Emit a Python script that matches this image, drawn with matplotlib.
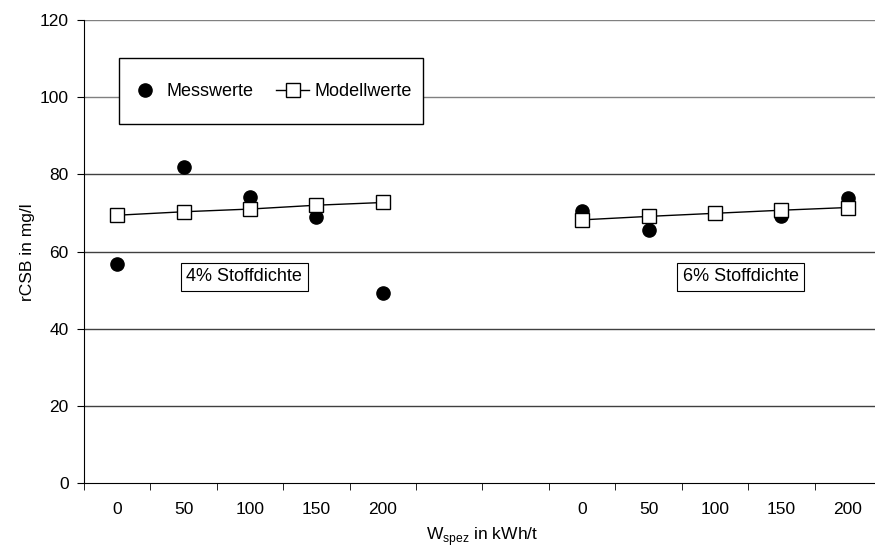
import matplotlib.pyplot as plt
from matplotlib.patches import Rectangle

# Kategorien der x-Achse (zwei Gruppen mit Lücke)
kategorien = ['0', '50', '100', '150', '200', '', '', '0', '50', '100', '150', '200']

# 4% Stoffdichte
mess_4 = [56.8, 81.8, 74.0, 69.0, 49.2]
modell_4 = [69.4, 70.3, 71.0, 72.0, 72.7]
# 6% Stoffdichte
mess_6 = [70.5, 65.6, 70.0, 69.1, 73.9]
modell_6 = [68.2, 69.1, 69.9, 70.7, 71.4]

pos_4 = [0, 1, 2, 3, 4]
pos_6 = [7, 8, 9, 10, 11]

plt.rcParams['font.family'] = ['Liberation Sans', 'DejaVu Sans']

W, H = 875, 549
fig = plt.figure(figsize=(8.75, 5.49), dpi=100)
ax = fig.add_axes([84 / W, 1 - 483 / H, 797 / W, 463 / H])

ax.set_xlim(-0.5, 11.5)
ax.set_ylim(0, 120)

# Gitterlinien
for y in range(20, 121, 20):
    ax.axhline(y, color='#404040' if y < 100 else '#808080', lw=1, zorder=1)

ms = 9.5
ax.plot(pos_4, mess_4, 'o', color='black', ms=ms, zorder=3, label='Messwerte')
ax.plot(pos_6, mess_6, 'o', color='black', ms=ms, zorder=3)
ax.plot(pos_4, modell_4, '-s', color='black', lw=1, ms=ms, mfc='white', mec='black',
        mew=1, zorder=4, label='Modellwerte')
ax.plot(pos_6, modell_6, '-s', color='black', lw=1, ms=ms, mfc='white', mec='black',
        mew=1, zorder=4)

# Achsen
for s in ['top', 'right']:
    ax.spines[s].set_visible(False)
ax.spines['left'].set_color('black')
ax.spines['bottom'].set_color('black')
ax.set_yticks(range(0, 121, 20))
ax.tick_params(axis='y', direction='out', length=5, labelsize=12.5, pad=6)
ax.set_xticks(range(12))
ax.set_xticklabels(kategorien)
ax.tick_params(axis='x', which='major', length=0, labelsize=12.5, pad=14)
ax.set_xticks([i - 0.5 for i in range(13)], minor=True)
ax.tick_params(axis='x', which='minor', direction='out', length=5)

ax.set_ylabel('rCSB in mg/l', fontsize=12.5)
ax.yaxis.set_label_coords((35 - 84) / 797, (483 - 252) / 463)
ax.set_xlabel(r'W$_{\mathregular{spez}}$ in kWh/t', fontsize=12.5)
ax.xaxis.set_label_coords((482 - 84) / 797, (483 - 540) / 463)
ax.xaxis.label.set_va('baseline')

# Legende mit eigenem Rahmen
rahmen = Rectangle((119 / W, 1 - 124 / H), 304 / W, 66 / H, transform=fig.transFigure,
                   fc='white', ec='black', lw=1, zorder=4.5)
ax.add_patch(rahmen)
rahmen.set_clip_on(False)
leg = ax.legend(loc='center left', bbox_to_anchor=(129 / W, 1 - 92 / H),
                bbox_transform=fig.transFigure, ncol=2, frameon=False, fontsize=13,
                borderpad=0, borderaxespad=0, handlelength=1.8, handletextpad=0.3,
                columnspacing=1.25)
leg.set_zorder(5)

# Beschriftungen der Gruppen
box = dict(boxstyle='square,pad=0.3', fc='white', ec='black', lw=0.8)
ax.text(1.915, 53.4, '4% Stoffdichte', ha='center', va='center', fontsize=13, bbox=box, zorder=5)
ax.text(9.39, 53.4, '6% Stoffdichte', ha='center', va='center', fontsize=13, bbox=box, zorder=5)

fig.savefig('out.png', dpi=100)
